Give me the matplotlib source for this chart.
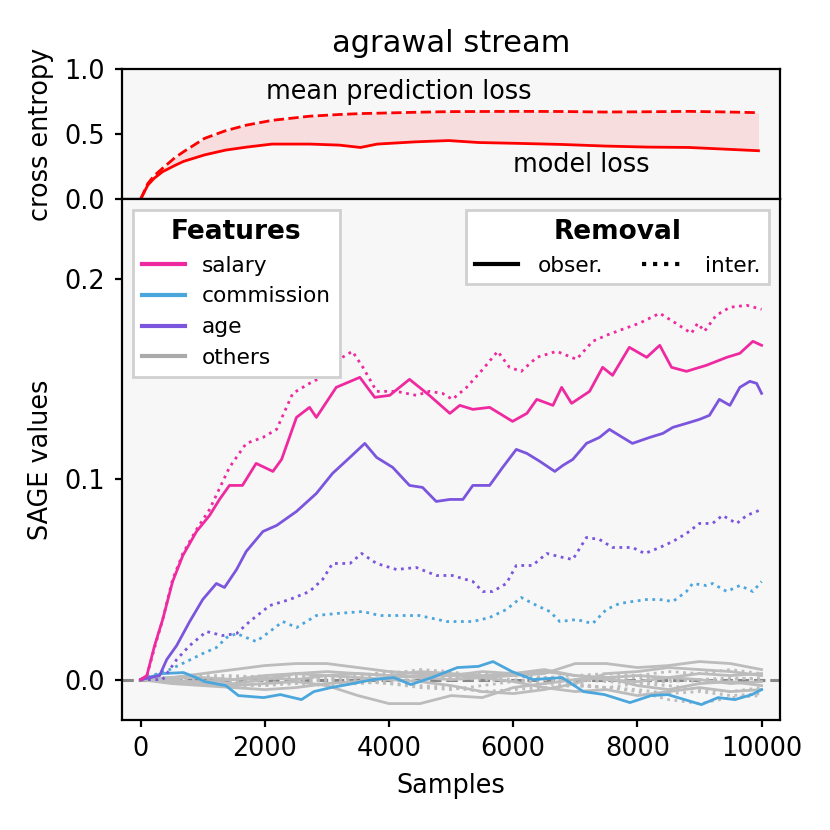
import numpy as np
import matplotlib.pyplot as plt
from matplotlib.lines import Line2D

# ---------------- data ----------------
loss_x = [0, 115, 217, 350, 556, 690, 1030, 1370, 1710, 2115, 2725, 3200, 3540, 3810,
          4420, 4960, 5440, 6115, 6790, 7470, 8150, 8830, 9370, 9950]
model_loss = [0, 0.108, 0.16, 0.21, 0.26, 0.29, 0.34, 0.377, 0.40, 0.423, 0.423, 0.415,
              0.397, 0.423, 0.44, 0.45, 0.435, 0.428, 0.42, 0.408, 0.40, 0.397, 0.385, 0.372]
mean_loss = [0, 0.12, 0.18, 0.236, 0.32, 0.364, 0.467, 0.526, 0.569, 0.605, 0.637, 0.65,
             0.657, 0.66, 0.667, 0.672, 0.673, 0.674, 0.673, 0.669, 0.671, 0.674, 0.670, 0.664]

sal_obs_x = [0, 100, 225, 355, 515, 680, 900, 1110, 1270, 1430, 1640, 1860, 2130, 2270, 2510,
             2720, 2830, 3150, 3530, 3770, 4010, 4330, 4650, 4980, 5140, 5350, 5620, 5990, 6220,
             6380, 6640, 6780, 6940, 7230, 7440, 7600, 7870, 8150, 8360, 8550, 8790, 9110, 9440,
             9650, 9860, 10000]
sal_obs_y = [0, 0.002, 0.017, 0.030, 0.049, 0.062, 0.074, 0.082, 0.090, 0.097, 0.097, 0.108,
             0.104, 0.110, 0.131, 0.136, 0.131, 0.146, 0.151, 0.141, 0.142, 0.150, 0.142, 0.133,
             0.137, 0.135, 0.136, 0.129, 0.133, 0.140, 0.137, 0.146, 0.138, 0.144, 0.156, 0.152,
             0.166, 0.161, 0.167, 0.156, 0.154, 0.157, 0.161, 0.163, 0.169, 0.167]

sal_int_x = [0, 100, 225, 355, 515, 680, 900, 1110, 1430, 1700, 1970, 2190, 2450, 2720, 3040,
             3250, 3410, 3580, 3800, 4120, 4440, 4650, 4860, 5020, 5250, 5510, 5750, 5940, 6130,
             6380, 6700, 7020, 7280, 7500, 7760, 8030, 8360, 8570, 8870, 8970, 9080, 9270, 9490,
             9760, 10000]
sal_int_y = [0, 0.002, 0.016, 0.030, 0.050, 0.063, 0.075, 0.085, 0.106, 0.118, 0.121, 0.125,
             0.143, 0.148, 0.153, 0.161, 0.164, 0.156, 0.144, 0.144, 0.142, 0.144, 0.143, 0.140,
             0.146, 0.155, 0.164, 0.156, 0.154, 0.161, 0.164, 0.160, 0.169, 0.172, 0.175, 0.178,
             0.183, 0.179, 0.173, 0.178, 0.174, 0.182, 0.186, 0.187, 0.185]

age_obs_x = [0, 305, 420, 580, 790, 1000, 1220, 1350, 1545, 1700, 1970, 2190, 2510, 2830, 3090,
             3370, 3610, 3800, 4060, 4330, 4540, 4760, 4980, 5190, 5350, 5620, 5830, 6050, 6220,
             6430, 6670, 6800, 6960, 7180, 7390, 7550, 7760, 7920, 8200, 8410, 8570, 8790, 9000,
             9160, 9320, 9490, 9650, 9810, 9920, 10000]
age_obs_y = [0, 0.002, 0.010, 0.017, 0.029, 0.040, 0.048, 0.046, 0.055, 0.064, 0.074, 0.077,
             0.084, 0.093, 0.103, 0.111, 0.118, 0.111, 0.106, 0.097, 0.096, 0.089, 0.090, 0.090,
             0.097, 0.097, 0.106, 0.115, 0.113, 0.109, 0.104, 0.107, 0.110, 0.118, 0.121, 0.125,
             0.121, 0.118, 0.121, 0.123, 0.126, 0.128, 0.130, 0.132, 0.140, 0.137, 0.146, 0.149,
             0.148, 0.143]

age_int_x = [0, 355, 580, 790, 1060, 1320, 1545, 1755, 2080, 2400, 2720, 2930, 3090, 3370, 3560,
             3800, 4120, 4440, 4760, 5020, 5350, 5510, 5670, 5890, 6050, 6310, 6540, 6800, 6960,
             7180, 7390, 7600, 7920, 8120, 8360, 8570, 8790, 9000, 9210, 9370, 9600, 9760, 10000]
age_int_y = [0, 0.000, 0.010, 0.017, 0.024, 0.022, 0.023, 0.029, 0.037, 0.040, 0.044, 0.050,
             0.058, 0.058, 0.063, 0.058, 0.055, 0.056, 0.052, 0.052, 0.049, 0.044, 0.044, 0.048,
             0.057, 0.057, 0.063, 0.061, 0.060, 0.071, 0.070, 0.066, 0.066, 0.063, 0.066, 0.069,
             0.073, 0.078, 0.078, 0.082, 0.078, 0.082, 0.085]

com_obs_x = [0, 350, 690, 895, 1030, 1370, 1575, 1980, 2250, 2590, 2790, 3065, 3335, 3740, 4080,
             4350, 4690, 5100, 5440, 5675, 5980, 6320, 6790, 7130, 7470, 7880, 8220, 8490, 8760,
             9030, 9300, 9570, 9845, 10000]
com_obs_y = [0, 0.003, 0.0035, 0.001, -0.001, -0.003, -0.008, -0.009, -0.0075, -0.010, -0.006,
             -0.004, -0.0025, 0, 0.001, -0.0025, 0.001, 0.006, 0.0066, 0.009, 0.004, 0, 0.001,
             -0.006, -0.0075, -0.0115, -0.008, -0.0075, -0.010, -0.0125, -0.009, -0.010, -0.0075,
             -0.005]

com_int_x = [0, 470, 740, 1000, 1220, 1385, 1545, 1700, 1860, 2080, 2290, 2510, 2830, 3150, 3580,
             3850, 4220, 4490, 4930, 5090, 5350, 5620, 5890, 6130, 6380, 6590, 6750, 7020, 7280,
             7500, 7710, 7920, 8150, 8360, 8570, 8790, 8890, 9110, 9210, 9440, 9650, 9860, 10000]
com_int_y = [0, 0.005, 0.009, 0.013, 0.016, 0.021, 0.023, 0.021, 0.019, 0.024, 0.029, 0.026,
             0.032, 0.033, 0.034, 0.032, 0.032, 0.032, 0.029, 0.029, 0.029, 0.031, 0.035, 0.041,
             0.037, 0.034, 0.029, 0.030, 0.028, 0.035, 0.038, 0.039, 0.040, 0.040, 0.039, 0.044,
             0.048, 0.047, 0.048, 0.044, 0.047, 0.044, 0.049]

# the remaining six features, in 1e-3 units, every 500 samples
others_x = list(range(0, 10001, 500))
others_obs = [
    [0, 1, 3, 5, 7, 8, 8, 6, 4, 3, 2, 1, 2, 3, 8, 8, 6, 7, 9, 8, 5],
    [0, -1, -2, -3, -2, -1, -3, -8, -12, -12, -8, -9, -4, -2, 0, 1, 2, 1, 3, 2, 3],
    [0, -2, -3, -4, -5, -4, -2, -1, 1, 2, 2, 4, 3, 5, 2, 1, -3, -5, -2, -1, -3],
    [0, 1, 1, 0, 2, 3, 2, 1, 0, -1, -3, -6, -7, -5, -2, 3, 4, 6, 5, 4, 2],
    [0, -1, -1, 0, 1, 0, 2, 3, 2, 1, 0, 1, -1, -4, -6, -5, -8, -6, -4, -6, -5],
    [0, 0, -2, -2, 0, 3, 4, 3, 2, 4, 3, 2, 3, 4, 2, 0, -1, 1, 0, -2, -1],
]
others_int = [
    [0, -1, -2, -3, -3, -1, 0, 1, 3, 5, 4, 1, 0, -2, -3, -4, -6, -10, -12, -9, -8],
    [0, 1, 2, 2, 1, 0, -1, -2, -1, 0, 1, 2, 3, 1, 0, -1, -2, -1, 0, 1, 0],
    [0, -1, 0, 1, 2, 2, 1, 0, -2, -3, -4, -6, -5, -4, -3, -4, -2, -3, -5, -6, -4],
    [0, 0, -1, -2, -3, -2, 0, 2, 4, 3, 1, 0, -1, 1, 2, 3, 2, 4, 3, 5, 3],
    [0, -1, -1, -1, 0, 1, 0, -1, -2, -4, -5, -3, -1, 0, -2, -4, -5, -7, -6, -8, -7],
    [0, 0, 1, 0, -1, -2, -3, -2, 0, 2, 1, 3, 2, 0, -1, 0, 1, 0, -1, 0, 1],
]

c_sal = '#ef2aa0'
c_com = '#4ba6dc'
c_age = '#7b55dd'
c_oth = '#bcbcbc'

# ---------------- figure ----------------
plt.rcParams['font.size'] = 9.2
fig = plt.figure(figsize=(4.15, 4.15), dpi=200)
ax1 = fig.add_axes([0.147, 0.760, 0.793, 0.157])
ax2 = fig.add_axes([0.147, 0.133, 0.793, 0.627], sharex=ax1)

for ax in (ax1, ax2):
    ax.set_facecolor('#f7f7f7')
    ax.tick_params(length=2.5, width=0.8)

# loss plot
ax1.plot(loss_x, model_loss, color='red', lw=1)
ax1.plot(loss_x, mean_loss, color='red', lw=1, ls='--')
ax1.fill_between(loss_x, model_loss, mean_loss, color='red', alpha=0.1, lw=0)
ax1.text(4150, 0.82, 'mean prediction loss', ha='center', va='center')
ax1.text(7100, 0.26, 'model loss', ha='center', va='center')
ax1.set_ylim(0, 1)
ax1.set_yticks([0, 0.5, 1.0])
ax1.set_ylabel('cross entropy')
ax1.set_title('agrawal stream', fontsize=11)
ax1.tick_params(axis='x', bottom=False, labelbottom=False)

# SAGE values
ax2.axhline(0, color='#888888', ls='--', lw=1.1, zorder=1)
for ys in others_obs:
    ax2.plot(others_x, np.array(ys) / 1000, color=c_oth, lw=1, zorder=2)
for ys in others_int:
    ax2.plot(others_x, np.array(ys) / 1000, color=c_oth, lw=1, ls=':', zorder=2)

ax2.plot(com_obs_x, com_obs_y, color=c_com, lw=1, zorder=3)
ax2.plot(com_int_x, com_int_y, color=c_com, lw=1, ls=':', zorder=3)
ax2.plot(age_obs_x, age_obs_y, color=c_age, lw=1, zorder=3)
ax2.plot(age_int_x, age_int_y, color=c_age, lw=1, ls=':', zorder=3)
ax2.plot(sal_obs_x, sal_obs_y, color=c_sal, lw=1, zorder=3)
ax2.plot(sal_int_x, sal_int_y, color=c_sal, lw=1, ls=':', zorder=3)

ax2.set_xlim(-300, 10300)
ax2.set_ylim(-0.02, 0.24)
ax2.set_yticks([0.0, 0.1, 0.2])
ax2.set_xticks([0, 2000, 4000, 6000, 8000, 10000])
ax2.set_xlabel('Samples')
ax2.set_ylabel('SAGE values')
fig.align_ylabels([ax1, ax2])

feat_handles = [Line2D([], [], color=c_sal, lw=1.5), Line2D([], [], color=c_com, lw=1.5),
                Line2D([], [], color=c_age, lw=1.5), Line2D([], [], color='#aaaaaa', lw=1.5)]
leg1 = ax2.legend(feat_handles, ['salary', 'commission', 'age', 'others'], loc='upper left',
                  title='Features', title_fontproperties={'weight': 'bold', 'size': 9.5},
                  fontsize=7.8, fancybox=False, edgecolor='#d0d0d0', framealpha=1,
                  handlelength=2.0)
ax2.add_artist(leg1)
rem_handles = [Line2D([], [], color='black', lw=1.5), Line2D([], [], color='black', lw=1.5, ls=':')]
ax2.legend(rem_handles, ['obser.', 'inter.'], loc='upper right', ncol=2,
           title='Removal', title_fontproperties={'weight': 'bold', 'size': 9.5},
           fontsize=7.8, fancybox=False, edgecolor='#d0d0d0', framealpha=1,
           handlelength=2.0, handletextpad=0.9, columnspacing=1.8)

fig.savefig('out.png', dpi=200)
